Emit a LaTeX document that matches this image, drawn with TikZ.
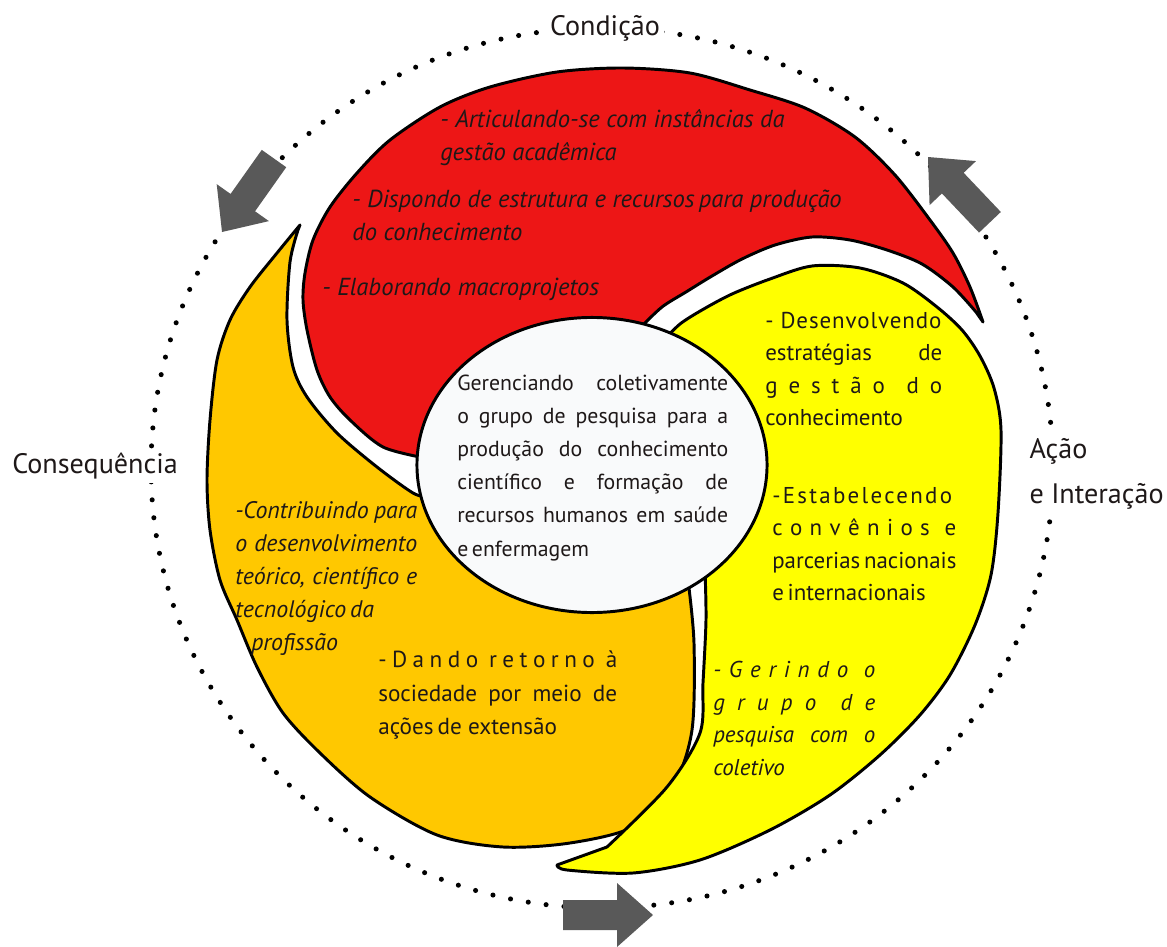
\documentclass[tikz,border=0pt]{standalone}
\usepackage{fontspec}
\setmainfont{PT Sans}
\usetikzlibrary{shapes.geometric}

\definecolor{petalred}{RGB}{237,22,22}
\definecolor{petalgold}{RGB}{255,200,0}
\definecolor{petalyellow}{RGB}{255,255,0}
\definecolor{arrowgray}{RGB}{89,89,89}
\definecolor{corewhite}{RGB}{249,250,251}
\definecolor{inkdark}{RGB}{30,24,24}

\newlength{\unitpx}
\setlength{\unitpx}{0.025cm}
\newcommand{\jline}[2]{\makebox[#1\unitpx][s]{#2}}

\tikzset{
  petal/.style={draw=black, line width=2.1pt, line join=round},
  dotring/.style={line width=3.6pt, line cap=round, dash pattern=on 0pt off 12.8pt},
  looplabel/.style={fill=white, inner sep=3pt, text=inkdark, font=\fontsize{20}{32}\selectfont},
  petaltext/.style={anchor=north west, align=left, inner sep=0pt, text=inkdark, font=\fontsize{16.3}{23.1}\selectfont},
  petalit/.style={petaltext, font=\fontsize{17}{23.5}\selectfont\itshape},
  corecircle/.style={ellipse, draw=black, line width=2.1pt, fill=corewhite, minimum width=8.75cm, minimum height=7.375cm, inner sep=0pt},
  blockarrow/.pic={\fill[arrowgray] (0,0) -- (-36,-32) -- (-36,-15) -- (-90,-15) -- (-90,15) -- (-36,15) -- (-36,32) -- cycle;}
}

\begin{document}
\begin{tikzpicture}[x=0.025cm, y=-0.025cm]
    \useasboundingbox (0,0) rectangle (1167,947);

    % Draw the dotted loop
    \draw[dotring] (602,468) ellipse [x radius=451, y radius=440];

    % Draw the red petal
    \draw[petal, fill=petalred] plot[smooth] coordinates {(425,458) (383,447) (350,420) (330,397) (317,370) (307,330) (303,300) (305,273) (313,240) (330,207) (357,173) (390,140) (440,107) (490,87) (557,72) (623,68) (690,73) (750,90) (805,108) (855,137) (895,175) (930,220) (953,253) (970,287) (983,322)}
      -- plot[smooth] coordinates {(976,312) (953,287) (922,264) (887,250) (850,240) (812,237) (775,245) (742,259) (712,276) (686,292) (662,307) (640,328)} -- cycle;

    % Draw the gold petal
    \draw[petal, fill=petalgold] plot[smooth] coordinates {(300,225) (277,253) (250,287) (230,320) (217,360) (210,420) (207,480) (210,530) (220,580) (237,620) (257,667) (283,713) (320,753) (370,797) (437,835) (503,847) (570,843) (633,827) (673,787) (692,730) (694,643) (688,580)}
      -- plot[smooth] coordinates {(428,497) (413,493) (377,467) (337,433) (307,397) (293,367) (287,320) (290,262) (298,230)} -- cycle;

    % Draw the yellow petal
    \draw[petal, fill=petalyellow] plot[smooth] coordinates {(664,340) (680,324) (702,310) (732,294) (770,279) (812,266) (860,268) (903,283) (937,307) (962,330) (980,356) (994,388) (1001,430) (998,513) (991,575) (975,625) (950,675) (920,715) (880,755) (830,795) (770,830) (700,860) (633,873) (567,870) (557,865)}
      -- plot[smooth] coordinates {(607,847) (667,787) (700,733) (703,683) (706,620) (705,570)} -- cycle;

    % Draw the core
    \node[corecircle] (core) at (592,465) {};
    \node[petaltext, font=\fontsize{15.5}{23.5}\selectfont] (coretext) at (457,375) {\jline{271}{Gerenciando coletivamente}\\
      \jline{271}{o grupo de pesquisa para a}\\
      \jline{271}{produção do conhecimento}\\
      \jline{271}{científico e formação de}\\
      \jline{271}{recursos humanos em saúde}\\
      e\,enfermagem};

    % Add the texts of the petals
    \node[petalit, font=\fontsize{17.5}{23.5}\selectfont\itshape] (redA) at (440,109) {- Articulando-se com instâncias da\\gestão acadêmica};
    \node[petalit, font=\fontsize{17.5}{23.5}\selectfont\itshape] (redB) at (352,190) {- Dispondo de estrutura e recursos\,para produção\\do conhecimento};
    \node[petalit, font=\fontsize{17.5}{23.5}\selectfont\itshape] (redC) at (322,278) {- Elaborando macroprojetos};

    \node[petaltext] (yellowA) at (765,312) {{\addfontfeature{LetterSpace=4}- Desenvolvendo}\\
      \jline{177}{estratégias de}\\
      \jline{177}{g e s t ã o\ \ d o}\\
      conhecimento};
    \node[petaltext] (yellowB) at (772,487) {{\addfontfeature{LetterSpace=10}-Estabelecendo}\\
      \jline{184}{c o n v ê n i o s\ \ e}\\
      parcerias\,nacionais\\
      e\,internacionais};
    \node[petalit, font=\fontsize{16.3}{23.1}\selectfont\itshape] (yellowC) at (713,661) {\jline{162}{- G e r i n d o\ \ o}\\
      \jline{162}{g r u p o\ \ d e}\\
      \jline{162}{pesquisa com o}\\
      coletivo};

    \node[petalit] (goldA) at (235,501) {\jline{182}{-Contribuindo para}\\
      \jline{182}{o desenvolvimento}\\
      \jline{182}{teórico, científico e}\\
      tecnológico\,da\\
      \hspace{0.4cm}profissão};
    \node[petaltext, font=\fontsize{16.5}{23.5}\selectfont] (goldB) at (378,651) {\jline{239}{- D a n d o\ \ r e t o r n o\ \ à}\\
      \jline{239}{sociedade por meio de}\\
      ações\,de extensão};

    % Draw the arrows on the loop
    \coordinate (tipwest) at (222,232);
    \coordinate (tipeast) at (928,157);
    \coordinate (tipsouth) at (653,915);
    \foreach \tip/\ang in {tipwest/234.7, tipeast/133.5, tipsouth/0}
    \pic[rotate=\ang] at (\tip) {blockarrow};

    % Add labels
    \node[looplabel] (condicao) at (605,28) {Condição};
    \node[looplabel] (consequencia) at (95,466) {Consequência};
    \node[looplabel, align=left, anchor=west] (acao) at (1025,474) {Ação\\e Interação};
  \end{tikzpicture}
\end{document}
